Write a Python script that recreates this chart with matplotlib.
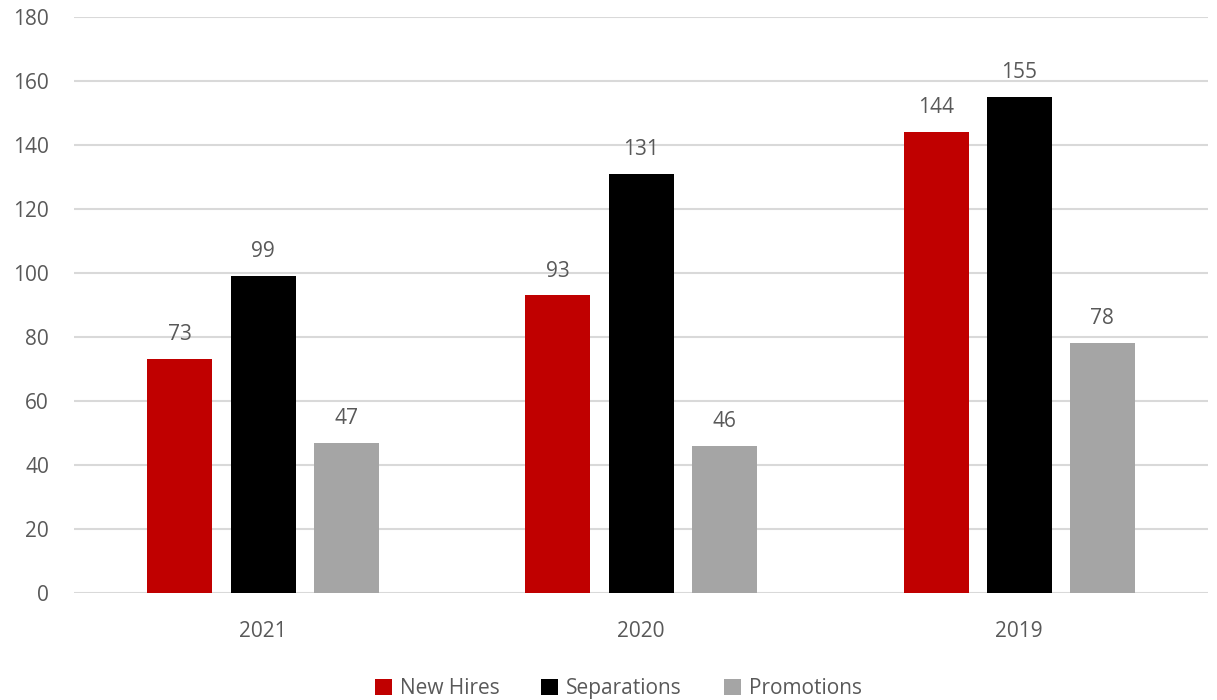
import matplotlib.pyplot as plt
import numpy as np

years = ["2021", "2020", "2019"]
new_hires = [73, 93, 144]
separations = [99, 131, 155]
promotions = [47, 46, 78]

series = [
    ("New Hires", new_hires, "#C00000"),
    ("Separations", separations, "#000000"),
    ("Promotions", promotions, "#A5A5A5"),
]

plt.rcParams["font.family"] = ["Open Sans", "DejaVu Sans"]
text_color = "#595959"

fig = plt.figure(figsize=(12.17, 7.0), dpi=100)
ax = fig.add_axes([0.0608, 0.1529, 0.932, 0.8228])

x = np.arange(len(years))
width = 0.172
step = 0.22

for i, (name, vals, color) in enumerate(series):
    pos = x + (i - 1) * step
    bars = ax.bar(pos, vals, width=width, color=color, label=name, zorder=3)
    for b, v in zip(bars, vals):
        ax.annotate(str(v), (b.get_x() + b.get_width() / 2, v),
                    textcoords="offset points", xytext=(0, 10),
                    ha="center", va="bottom", fontsize=15, color=text_color)

ax.set_xlim(-0.5, 2.5)
ax.set_ylim(0, 180)
ax.set_yticks(np.arange(0, 181, 20))
ax.set_xticks(x)
ax.set_xticklabels(years)
ax.tick_params(axis="both", length=0, labelsize=15, labelcolor=text_color)
ax.tick_params(axis="x", pad=20)
ax.tick_params(axis="y", pad=18)
ax.grid(axis="y", color="#D9D9D9", linewidth=1.5, zorder=0)
for s in ax.spines.values():
    s.set_visible(False)

ax.legend(loc="upper center", bbox_to_anchor=(0.48, -0.115), ncol=3, frameon=False,
          fontsize=15, labelcolor=text_color, handlelength=0.8, handleheight=0.8,
          handletextpad=0.4, columnspacing=2.0)

fig.savefig("out.png", dpi=100)
